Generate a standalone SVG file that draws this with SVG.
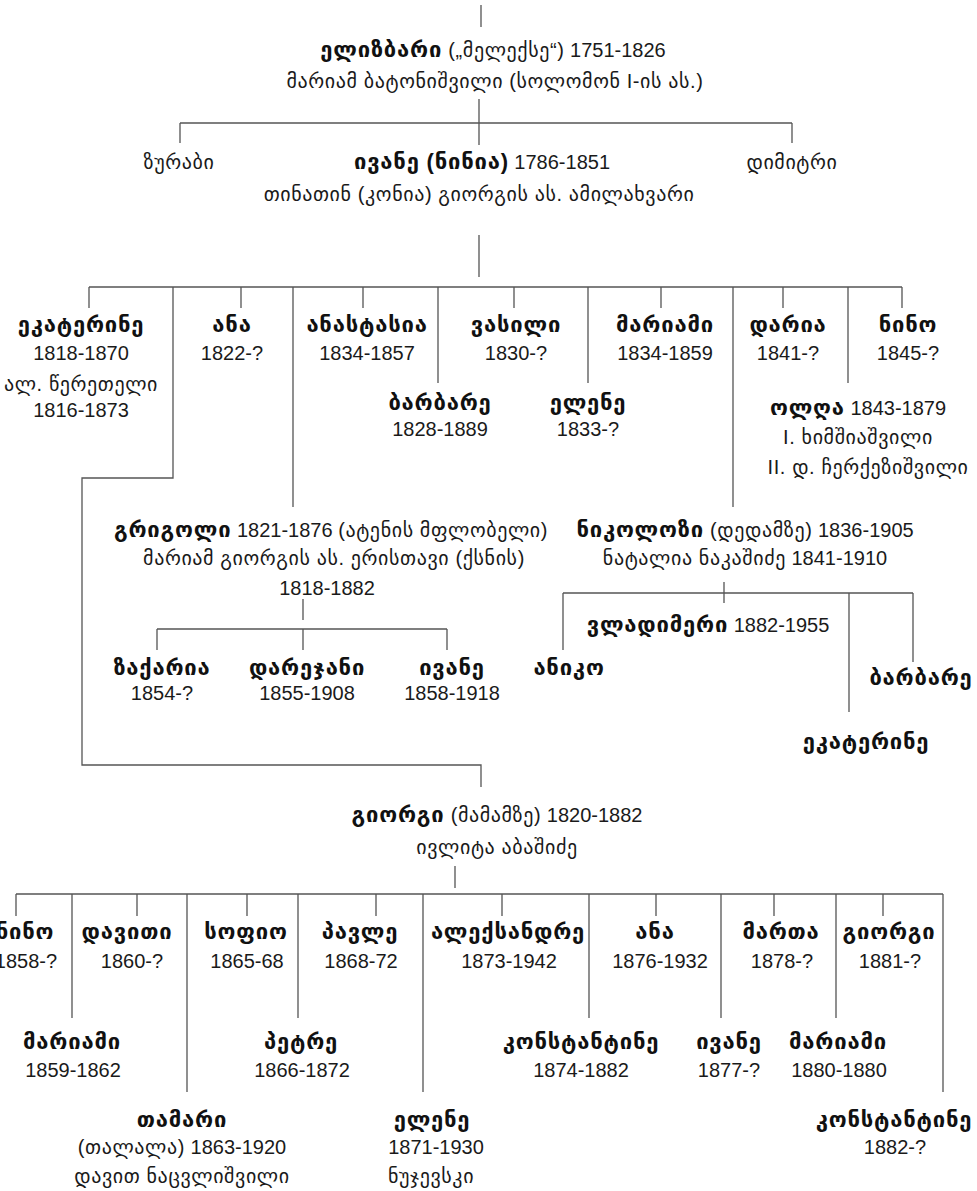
<svg xmlns="http://www.w3.org/2000/svg" width="977" height="1191" viewBox="0 0 977 1191">
<style>
text{font-family:"Liberation Sans","DejaVu Sans",sans-serif;fill:#1a1a1a;text-anchor:middle;font-size:20px}
.b{font-weight:bold;font-size:22px;letter-spacing:.8px;fill:#111}
.g{font-size:20px;letter-spacing:.6px}
.c path{fill:none;stroke:#555;stroke-width:1.3}
</style>
<rect width="977" height="1191" fill="#fff"/>
<g id="connectors" class="c">
<path d="M481,5V27M479,99V145M180,123H792M180,123V143M792,123V143"/>
<path d="M479,235V277M89,287H902M89,287V308M241,287V308M363,287V308M438,287V383M514,287V308M588,287V383M661,287V308M783,287V308M848,287V383M902,287V308"/>
<path d="M173,287V478H82V765H481V787"/>
<path d="M293,287V507M733,287V507"/>
<path d="M303,599V620M157,629H447M157,629V650M303,629V650M447,629V650"/>
<path d="M724,582V603M563,593H913M563,593V650M849,593V712M913,593V662"/>
<path d="M455,866V888M16,894H943M16,894V916M72,894V1018M137,894V916M187,894V1092M247,894V916M298,894V1018M376,894V916M423,894V1092M502,894V916M589,894V1018M656,894V916M721,894V1018M774,894V916M836,894V1018M883,894V916M943,894V1092"/>
</g>
<g id="n-elizbari"><text x="493" y="57"><tspan class="b">ელიზბარი</tspan><tspan class="g"> („მელექსე“)</tspan> 1751-1826</text><text class="g" x="495" y="88">მარიამ ბატონიშვილი (სოლომონ I-ის ას.)</text></g>
<g id="n-zurabi"><text class="g" x="179" y="169">ზურაბი</text></g>
<g id="n-ivane"><text x="482" y="169"><tspan class="b">ივანე (ნინია)</tspan> 1786-1851</text><text class="g" x="479" y="201">თინათინ (კონია) გიორგის ას. ამილახვარი</text></g>
<g id="n-dimitri"><text class="g" x="792" y="169">დიმიტრი</text></g>
<g id="n-ekaterine"><text class="b" x="81" y="332">ეკატერინე</text><text x="81" y="360">1818-1870</text><text class="g" x="81" y="391">ალ. წერეთელი</text><text x="81" y="417">1816-1873</text></g>
<g id="n-ana"><text class="b" x="232" y="332">ანა</text><text x="232" y="360">1822-?</text></g>
<g id="n-anastasia"><text class="b" x="367" y="332">ანასტასია</text><text x="367" y="360">1834-1857</text></g>
<g id="n-barbare"><text class="b" x="440" y="410">ბარბარე</text><text x="440" y="436">1828-1889</text></g>
<g id="n-vasili"><text class="b" x="516" y="332">ვასილი</text><text x="516" y="360">1830-?</text></g>
<g id="n-elene"><text class="b" x="588" y="410">ელენე</text><text x="588" y="436">1833-?</text></g>
<g id="n-mariami"><text class="b" x="665" y="332">მარიამი</text><text x="665" y="360">1834-1859</text></g>
<g id="n-daria"><text class="b" x="788" y="332">დარია</text><text x="788" y="360">1841-?</text></g>
<g id="n-nino"><text class="b" x="908" y="332">ნინო</text><text x="908" y="360">1845-?</text></g>
<g id="n-olgha"><text x="858" y="415"><tspan class="b">ოლღა</tspan> 1843-1879</text><text class="g" x="858" y="444">I. ხიმშიაშვილი</text><text class="g" x="868" y="474">II. დ. ჩერქეზიშვილი</text></g>
<g id="n-grigoli"><text x="331" y="537"><tspan class="b">გრიგოლი</tspan> 1821-1876 <tspan class="g">(ატენის მფლობელი)</tspan></text><text class="g" x="334" y="565">მარიამ გიორგის ას. ერისთავი (ქსნის)</text><text x="327" y="595">1818-1882</text></g>
<g id="n-zakaria"><text class="b" x="162" y="675">ზაქარია</text><text x="162" y="700">1854-?</text></g>
<g id="n-darejani"><text class="b" x="307" y="675">დარეჯანი</text><text x="307" y="700">1855-1908</text></g>
<g id="n-ivane2"><text class="b" x="452" y="675">ივანე</text><text x="452" y="700">1858-1918</text></g>
<g id="n-nikolozi"><text x="745" y="537"><tspan class="b">ნიკოლოზი</tspan><tspan class="g"> (დედამზე)</tspan> 1836-1905</text><text x="745" y="565"><tspan class="g">ნატალია ნაკაშიძე</tspan> 1841-1910</text></g>
<g id="n-vladimeri"><text x="708" y="632"><tspan class="b">ვლადიმერი</tspan> 1882-1955</text></g>
<g id="n-aniko"><text class="b" x="569" y="675">ანიკო</text></g>
<g id="n-barbare2"><text class="b" x="921" y="685">ბარბარე</text></g>
<g id="n-ekaterine2"><text class="b" x="866" y="749">ეკატერინე</text></g>
<g id="n-giorgi"><text x="497" y="822"><tspan class="b">გიორგი</tspan><tspan class="g"> (მამამზე)</tspan> 1820-1882</text><text class="g" x="497" y="854">ივლიტა აბაშიძე</text></g>
<g id="n-nino2"><text class="b" x="25" y="939">ნინო</text><text x="26" y="968">1858-?</text></g>
<g id="n-mariami2"><text class="b" x="72" y="1049">მარიამი</text><text x="73" y="1077">1859-1862</text></g>
<g id="n-daviti"><text class="b" x="127" y="939">დავითი</text><text x="132" y="968">1860-?</text></g>
<g id="n-tamari"><text class="b" x="182" y="1127">თამარი</text><text x="182" y="1154"><tspan class="g">(თალალა)</tspan> 1863-1920</text><text class="g" x="182" y="1183">დავით ნაცვლიშვილი</text></g>
<g id="n-sofio"><text class="b" x="246" y="939">სოფიო</text><text x="247" y="968">1865-68</text></g>
<g id="n-petre"><text class="b" x="301" y="1049">პეტრე</text><text x="302" y="1077">1866-1872</text></g>
<g id="n-pavle"><text class="b" x="360" y="939">პავლე</text><text x="361" y="968">1868-72</text></g>
<g id="n-elene2"><text class="b" x="432" y="1127">ელენე</text><text x="436" y="1154">1871-1930</text><text class="g" x="431" y="1183">ნუჯევსკი</text></g>
<g id="n-aleksandre"><text class="b" x="508" y="939">ალექსანდრე</text><text x="509" y="968">1873-1942</text></g>
<g id="n-konstantine"><text class="b" x="581" y="1049">კონსტანტინე</text><text x="581" y="1077">1874-1882</text></g>
<g id="n-ana2"><text class="b" x="655" y="939">ანა</text><text x="660" y="968">1876-1932</text></g>
<g id="n-ivane3"><text class="b" x="729" y="1049">ივანე</text><text x="729" y="1077">1877-?</text></g>
<g id="n-marta"><text class="b" x="781" y="939">მართა</text><text x="782" y="968">1878-?</text></g>
<g id="n-mariami3"><text class="b" x="838" y="1049">მარიამი</text><text x="839" y="1077">1880-1880</text></g>
<g id="n-giorgi2"><text class="b" x="889" y="939">გიორგი</text><text x="890" y="968">1881-?</text></g>
<g id="n-konstantine2"><text class="b" x="894" y="1127">კონსტანტინე</text><text x="895" y="1154">1882-?</text></g>
</svg>
